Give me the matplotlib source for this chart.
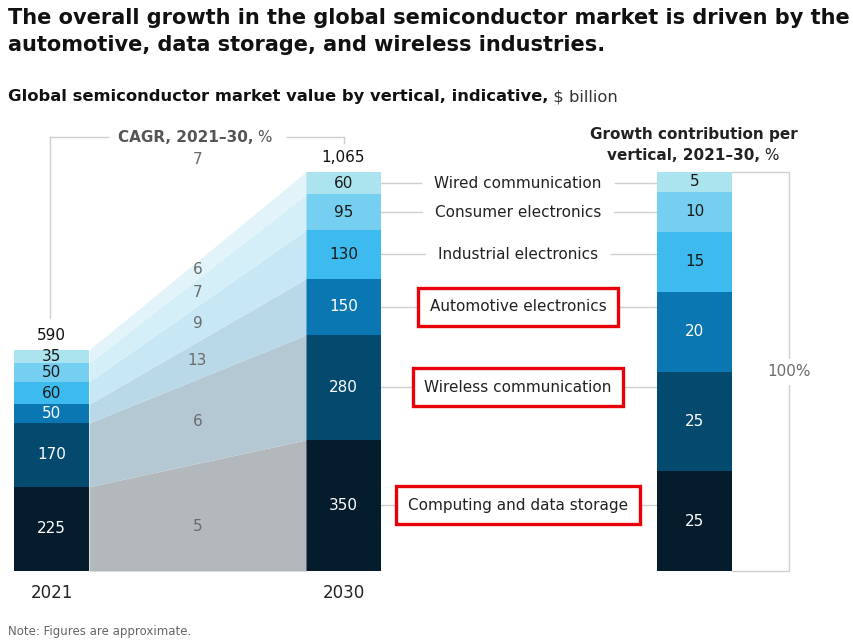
import matplotlib
matplotlib.use("Agg")
import matplotlib.pyplot as plt
from matplotlib.lines import Line2D
from matplotlib.transforms import blended_transform_factory

plt.rcParams['font.family'] = ['DejaVu Sans']

# data, $ billion, bottom to top
verticals = ['Computing and data storage', 'Wireless communication', 'Automotive electronics',
             'Industrial electronics', 'Consumer electronics', 'Wired communication']
v2021 = [225, 170, 50, 60, 50, 35]
v2030 = [350, 280, 150, 130, 95, 60]
cagr = [5, 6, 13, 9, 7, 6]
cagr_total = 7
contrib = [25, 25, 20, 15, 10, 5]
years = ['2021', '2030']
highlight = ['Automotive electronics', 'Wireless communication', 'Computing and data storage']

bar_cols = ['#051c2c', '#044a6e', '#0b77b2', '#3dbbee', '#75cff0', '#abe4ee']
flow_cols = ['#b3b8bd', '#b4c8d4', '#b9d9e8', '#c7e7f5', '#d4eff8', '#e2f4f9']
txt_cols = ['white', 'white', 'white', '#1a1a1a', '#1a1a1a', '#1a1a1a']

W, H = 854, 643
def fx(p): return p / W
def fy(p): return 1 - p / H

fig = plt.figure(figsize=(W / 100, H / 100), dpi=100)

# main axes: bar centres at 0 and 1 -> px 51.5 and 343.5
pxu = 292.0
ppy = 399 / 1065.0
ax = fig.add_axes([0, 72 / H, 1, 571 / H])
ax.set_xlim(-51.5 / pxu, (W - 51.5) / pxu)
ax.set_ylim(0, 571 / ppy)
ax.axis('off')
bw = 75 / pxu
fs = 11

b21 = 0
b30 = 0
for i in range(len(verticals)):
    ax.bar(0, v2021[i], bottom=b21, width=bw, color=bar_cols[i], lw=0)
    ax.bar(1, v2030[i], bottom=b30, width=bw, color=bar_cols[i], lw=0)
    ax.fill_between([bw / 2, 1 - bw / 2], [b21, b30], [b21 + v2021[i], b30 + v2030[i]],
                    color=flow_cols[i], lw=0)
    ax.text(0, b21 + v2021[i] / 2, str(v2021[i]), ha='center', va='center',
            color=txt_cols[i], fontsize=fs)
    ax.text(1, b30 + v2030[i] / 2, str(v2030[i]), ha='center', va='center',
            color=txt_cols[i], fontsize=fs)
    # cagr in middle of band
    mid = (b21 + v2021[i] / 2 + b30 + v2030[i] / 2) / 2
    off = -25 if i == 0 else 0
    ax.text(0.5, mid + off, str(cagr[i]), ha='center', va='center', color='#6b6b6b', fontsize=fs)
    b21 += v2021[i]
    b30 += v2030[i]

ax.text(0, b21 + 14 / ppy, str(b21), ha='center', va='center', fontsize=fs, color='#111')
ax.text(1, b30 + 14 / ppy, '{:,}'.format(b30), ha='center', va='center', fontsize=fs, color='#111')
fig.text(fx(197.5), fy(160), str(cagr_total), ha='center', va='center', color='#6b6b6b', fontsize=fs)

for k, yr in enumerate(years):
    ax.text(k, -22 / ppy, yr, ha='center', va='center', fontsize=12, color='#222')

# CAGR bracket
gcol = '#cfcfcf'
fig.add_artist(Line2D([fx(50), fx(108)], [fy(137), fy(137)], color=gcol, lw=1))
fig.add_artist(Line2D([fx(287), fx(344)], [fy(137), fy(137)], color=gcol, lw=1))
fig.add_artist(Line2D([fx(50), fx(50)], [fy(137), fy(318)], color=gcol, lw=1))
fig.add_artist(Line2D([fx(344), fx(344)], [fy(137), fy(143)], color=gcol, lw=1))
t = fig.text(fx(118), fy(137), 'CAGR, 2021–30,', ha='left', va='center', fontsize=fs,
             fontweight='bold', color='#555')
ax.annotate(' %', xy=(1, 0.5), xycoords=t, va='center', ha='left', fontsize=fs, color='#555')

# contribution bar
ax2 = fig.add_axes([657 / W, 72 / H, 75 / W, 399 / H])
ax2.set_xlim(-0.5, 0.5)
ax2.set_ylim(0, sum(contrib))
ax2.axis('off')
c = 0
for i in range(len(contrib)):
    ax2.bar(0, contrib[i], bottom=c, width=1, color=bar_cols[i], lw=0)
    ax2.text(0, c + contrib[i] / 2, str(contrib[i]), ha='center', va='center',
             color=txt_cols[i], fontsize=fs)
    c += contrib[i]

xr = -0.5 + (789 - 657) / 75.0
ax2.add_line(Line2D([0.5, xr, xr, 0.5], [c, c, 0, 0], color=gcol, lw=1, clip_on=False))
ax2.text(xr, c / 2, '100%', ha='center', va='center', fontsize=fs, color='#6b6b6b',
         bbox=dict(facecolor='white', edgecolor='none', pad=4), clip_on=False)

fig.text(fx(694), fy(134), 'Growth contribution per', ha='center', va='center',
         fontsize=fs, fontweight='bold', color='#222')
t2 = fig.text(fx(684), fy(155), 'vertical, 2021–30,', ha='center', va='center',
              fontsize=fs, fontweight='bold', color='#222')
ax.annotate(' %', xy=(1, 0.5), xycoords=t2, va='center', ha='left', fontsize=fs, color='#222')

# vertical labels with connectors
tr = blended_transform_factory(fig.transFigure, ax.transData)
labels = []
b30 = 0
for i in range(len(verticals)):
    ym = b30 + v2030[i] / 2
    b30 += v2030[i]
    if verticals[i] in highlight:
        t = ax.text(fx(518), ym, verticals[i], transform=tr, ha='center', va='center',
                    fontsize=fs, color='#222',
                    bbox=dict(boxstyle='square,pad=0.75', facecolor='white',
                              edgecolor='#e8000b', lw=2.4))
    else:
        t = ax.text(fx(518), ym, verticals[i], transform=tr, ha='center', va='center',
                    fontsize=fs, color='#222')
    labels.append((t, ym, verticals[i] in highlight))

fig.canvas.draw()
r = fig.canvas.get_renderer()
for t, ym, boxed in labels:
    if boxed:
        bb = t.get_bbox_patch().get_window_extent(r)
        x0, x1 = bb.x0, bb.x1
    else:
        bb = t.get_window_extent(r)
        x0, x1 = bb.x0 - 13, bb.x1 + 13
    ax.add_line(Line2D([fx(381), x0 / W], [ym, ym], transform=tr, color=gcol, lw=1, zorder=0))
    ax.add_line(Line2D([x1 / W, fx(657)], [ym, ym], transform=tr, color=gcol, lw=1, zorder=0))

# titles
fig.text(fx(8), fy(18), 'The overall growth in the global semiconductor market is driven by the',
         ha='left', va='center', fontsize=15, fontweight='bold', color='#111')
fig.text(fx(8), fy(45), 'automotive, data storage, and wireless industries.',
         ha='left', va='center', fontsize=15, fontweight='bold', color='#111')
t3 = fig.text(fx(8), fy(97), 'Global semiconductor market value by vertical, indicative,',
              ha='left', va='center', fontsize=11.8, fontweight='bold', color='#111')
ax.annotate(' $ billion', xy=(1, 0.5), xycoords=t3, va='center', ha='left', fontsize=11.8, color='#333')

fig.text(fx(8), fy(631), 'Note: Figures are approximate.', ha='left', va='center',
         fontsize=8.5, color='#666')

fig.savefig('out.png', dpi=100)
